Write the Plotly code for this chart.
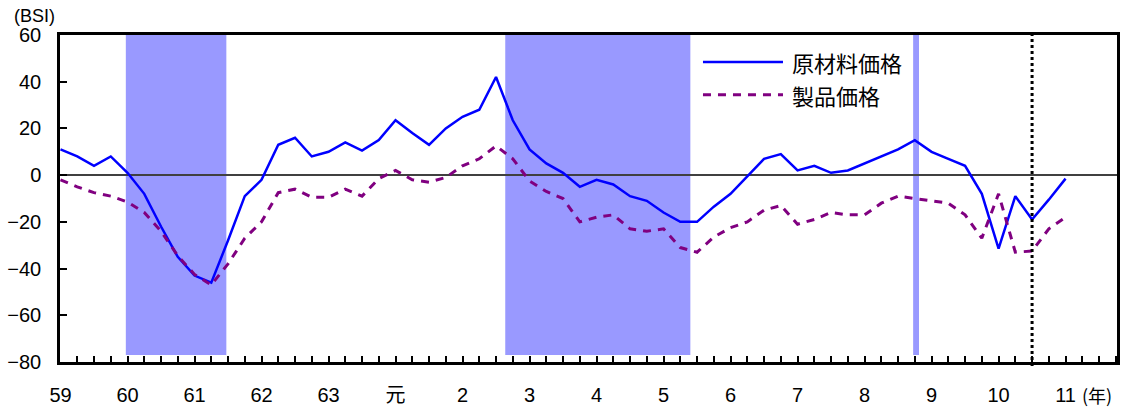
import plotly.graph_objects as go

# Quarter index (0 = first quarter of 昭和59年)
quarters = list(range(61))

raw_material = [11, 8, 4, 8, 1, -8, -22, -35, -43, -46,
                -28, -9, -2, 13, 16, 8, 10, 14, 10.5, 15,
                23.5, 18, 13, 20, 25, 28, 42, 23.5, 11, 5,
                1, -5, -2, -4, -9, -11, -16, -20, -20, -13.5,
                -8, -0.5, 7, 9, 2, 4, 1, 2, 5, 8,
                11, 15, 10, 7, 4, -8, -31.5, -9, -19, -10.5,
                -1.5]

product = [-2, -5, -7.5, -9, -11.5, -16, -24, -34.5, -42.5, -47,
           -38, -27, -20, -7.5, -6, -9.5, -9.5, -6, -9, -1.5,
           2, -2, -3, -1, 4, 7, 12.5, 7, -2.5, -7,
           -10, -20, -18, -17, -23, -24, -23, -31, -33, -26.5,
           -22.5, -20, -15, -13, -21, -19, -16, -17, -17, -12,
           -9, -10, -11, -12, -17, -27, -8, -33, -32.5, -23,
           -18]

year_ticks = [0, 4, 8, 12, 16, 20, 24, 28, 32, 36, 40, 44, 48, 52, 56, 60]
year_labels = ["59", "60", "61", "62", "63", "元", "2", "3", "4", "5",
               "6", "7", "8", "9", "10", "11"]

series_names = ["原材料価格", "製品価格"]

# Shaded periods (quarter index start, end)
recession_bands = [(3.9, 9.9), (26.55, 37.6), (50.9, 51.25)]
band_bottom = -77
forecast_line = 58  # dotted vertical marker

x_range = [-0.03, 63.07]
y_range = [-80, 60]

BLUE = "#0000FF"
PURPLE = "#800080"
BAND = "#9999FF"
FONT = "Liberation Sans, Arial, Noto Sans CJK JP"
CJK = "Noto Sans CJK JP, Liberation Sans"

fig = go.Figure()
fig.add_trace(go.Scatter(x=quarters, y=raw_material, mode="lines",
                         name=series_names[0],
                         line=dict(color=BLUE, width=2.5)))
fig.add_trace(go.Scatter(x=quarters, y=product, mode="lines",
                         name=series_names[1],
                         line=dict(color=PURPLE, width=3, dash="8px,7px")))

shapes = []
for x0, x1 in recession_bands:
    shapes.append(dict(type="rect", xref="x", yref="y", x0=x0, x1=x1,
                       y0=band_bottom, y1=y_range[1], fillcolor=BAND,
                       line=dict(width=0), layer="below"))

# dotted vertical line (slightly beyond the plot frame)
fx = (forecast_line - x_range[0]) / (x_range[1] - x_range[0])
shapes.append(dict(type="line", xref="paper", yref="paper", x0=fx, x1=fx,
                   y0=-0.012, y1=1.01,
                   line=dict(color="black", width=3, dash="3px,3px"),
                   layer="above"))

# custom legend with long sample lines
leg_x0, leg_x1, leg_tx = 0.6083, 0.684, 0.6906
leg_y = [0.9176, 0.8169]
styles = [dict(color=BLUE, width=2.5), dict(color=PURPLE, width=3, dash="8px,7px")]
annotations = []
for name, yy, st in zip(series_names, leg_y, styles):
    shapes.append(dict(type="line", xref="paper", yref="paper",
                       x0=leg_x0, x1=leg_x1, y0=yy, y1=yy, line=st))
    annotations.append(dict(text=name, xref="paper", yref="paper",
                            x=leg_tx, y=yy, xanchor="left", yanchor="middle",
                            showarrow=False, font=dict(family=CJK, size=22, color="black")))

annotations.append(dict(text="(BSI)", xref="paper", yref="paper", x=-0.003, y=1.058,
                        xanchor="right", yanchor="middle", showarrow=False,
                        font=dict(family=FONT, size=18, color="black")))
annotations.append(dict(text="(年)", xref="paper", yref="paper", x=0.965, y=-0.1,
                        xanchor="left", yanchor="middle", showarrow=False,
                        font=dict(family=CJK, size=18, color="black")))

fig.update_layout(
    width=1123, height=410,
    margin=dict(l=60, r=6, t=35, b=48, autoexpand=False),
    paper_bgcolor="white", plot_bgcolor="white",
    showlegend=False,
    shapes=shapes, annotations=annotations,
    font=dict(family=FONT, color="black"),
)
fig.update_xaxes(range=x_range, tickmode="array", tickvals=year_ticks,
                 ticktext=year_labels, ticks="inside", ticklen=6, tickwidth=2,
                 tickcolor="black", showgrid=False, zeroline=False,
                 showline=True, linecolor="black", linewidth=2.5, mirror=True,
                 ticklabelstandoff=13, automargin=False,
                 tickfont=dict(family=FONT + ", " + CJK, size=20, color="black"),
                 minor=dict(dtick=1, tick0=0, ticks="inside", ticklen=6,
                            tickwidth=2, tickcolor="black", showgrid=False))
fig.update_yaxes(range=y_range, dtick=20, tick0=-80, ticks="inside", ticklen=7,
                 tickwidth=2, tickcolor="black", showgrid=False,
                 zeroline=True, zerolinecolor="#404040", zerolinewidth=1.5,
                 showline=True, linecolor="black", linewidth=2.5, mirror=True,
                 ticklabelstandoff=12, automargin=False,
                 tickfont=dict(family=FONT, size=20, color="black"))

fig.write_html("out.html", config={"displayModeBar": False},
               post_script="document.body.style.margin='0';document.body.style.overflow='hidden';")
